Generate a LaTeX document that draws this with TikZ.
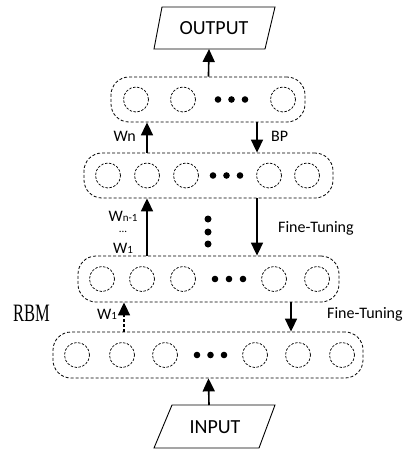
\documentclass[tikz,border=0pt]{standalone}
\usepackage{fontspec}
\usepackage{tikz}
\usetikzlibrary{arrows.meta}
\newfontfamily\lblfont{Carlito}
\newfontfamily\rbmfont{Liberation Serif}

\tikzset{
  layer/.style={draw, line width=0.8pt, dash pattern=on 3pt off 2pt, rounded corners=18pt, minimum height=45pt},
  unit/.style={circle, draw, line width=0.7pt, dash pattern=on 2.5pt off 1.5pt, minimum size=25pt, inner sep=0pt},
  conn/.style={line width=1.6pt, -{Triangle[length=13pt,width=12pt]}},
  lbl/.style={font=\lblfont\fontsize{16}{16}\selectfont, inner sep=0pt},
  iobox/.style={line width=0.9pt},
}
\newcommand{\lowsub}[1]{{\fontsize{11}{11}\selectfont #1}}

\begin{document}
\begin{tikzpicture}[x=1pt,y=-1pt]
    \useasboundingbox (0,0) rectangle (402,450);

    % output / input
    \draw[iobox] (162,7)--(275,7)--(265,49)--(154,49)--cycle;
    \node[font=\lblfont\fontsize{20}{20}\selectfont] (output) at (214,28) {OUTPUT};
    \coordinate (outb) at (209,49);
    \draw[iobox] (172,405)--(275,405)--(259,448)--(154,448)--cycle;
    \node[font=\lblfont\fontsize{20}{20}\selectfont] (input) at (215,427) {INPUT};
    \coordinate (int) at (209,405);

    % layers
    \node[layer, minimum width=194pt] (l4) at (208,99.5) {};
    \node[layer, minimum width=249pt] (l3) at (208.5,175.5) {};
    \node[layer, minimum width=261pt, minimum height=46pt] (l2) at (208.5,279) {};
    \node[layer, minimum width=310pt, minimum height=46pt] (l1) at (208,355) {};

    \foreach \x [count=\i] in {136,183,283}
        \node[unit] (c4\i) at (\x,99.5) {};
    \foreach \x [count=\i] in {108,147,186,269,307}
        \node[unit] (c3\i) at (\x,175.5) {};
    \foreach \x [count=\i] in {102,142,183,274,317}
        \node[unit] (c2\i) at (\x,279) {};
    \foreach \x [count=\i] in {77,122,165,255,298,342}
        \node[unit] (c1\i) at (\x,355) {};

    \foreach \x in {218,231.5,245} \fill (\x,99.5) circle (3.3);
    \foreach \x in {213,226.5,240} \fill (\x,175.5) circle (3.3);
    \foreach \x in {215,229,243} \fill (\x,279) circle (3.3);
    \foreach \x in {197,210.5,224} \fill (\x,355) circle (3.3);
    \foreach \y in {219,232,244} \fill (208,\y) circle (3.5);

    % connectors
    \coordinate (up1) at (124,0);
    \coordinate (dn1) at (257,0);
    \coordinate (dn2) at (291,0);
    \draw[conn] (l4) -- (outb);
    \draw[conn] (c32 |- l3.north) -- (c32 |- l4.south);
    \draw[conn] (dn1 |- l4.south) -- (dn1 |- l3.north);
    \draw[conn] (c32 |- l2.north) -- (c32 |- l3.south);
    \draw[conn] (dn1 |- l3.south) -- (dn1 |- l2.north);
    \draw[conn, dash pattern=on 3pt off 2pt] (up1 |- l1.north) -- (up1 |- l2.south);
    \draw[conn] (dn2 |- l2.south) -- (dn2 |- l1.north);
    \draw[conn] (int) -- (l1);

    % labels
    \node[lbl, anchor=east] (wn) at (136,136) {Wn};
    \node[lbl, anchor=west] (bp) at (271,136) {BP};
    \node[lbl] (wn1) at (123,216) {W\lowsub{n-1}};
    \node[font=\lblfont\fontsize{11}{11}\selectfont, inner sep=0pt] (wdots) at (123,232) {...};
    \node[lbl] (w1a) at (123,248) {W\lowsub{1}};
    \node[lbl, anchor=west] (ft1) at (278,228) {Fine-Tuning};
    \node[lbl] (w1b) at (107,314) {W\lowsub{1}};
    \node[lbl, anchor=west] (ft2) at (327,314) {Fine-Tuning};
    \node[font=\rbmfont\fontsize{25}{25}\selectfont, inner sep=0pt] (rbm) at (31.5,313) {\scalebox{0.66}[1]{RBM}};
\end{tikzpicture}
\end{document}
